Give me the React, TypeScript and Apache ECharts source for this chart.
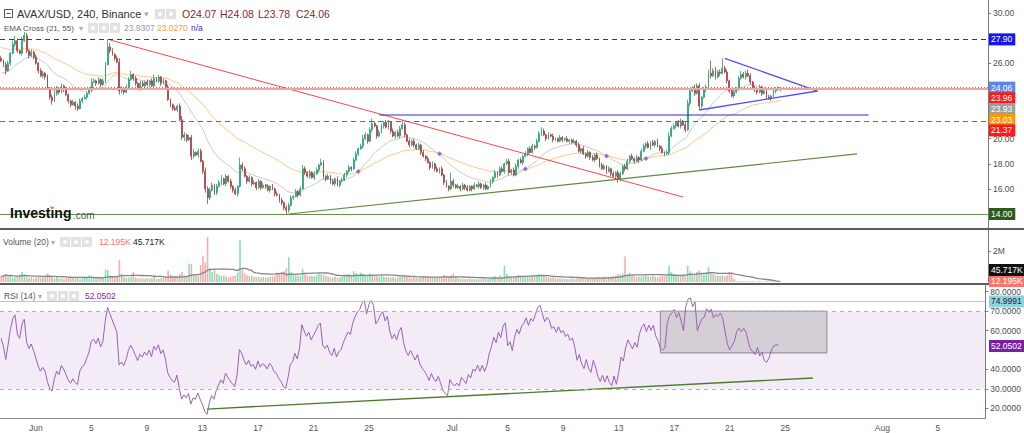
import React, { useEffect, useRef } from 'react';
import * as echarts from 'echarts';

const FONT = 'Liberation Sans';
const START_UTC = Date.UTC(2022, 4, 29, 12);
const BAR_HOURS = 4;
const SLOT_COUNT = 426;
const MONTHS = ['Jan', 'Feb', 'Mar', 'Apr', 'May', 'Jun', 'Jul', 'Aug', 'Sep', 'Oct', 'Nov', 'Dec'];
const LABEL_DAYS = [1, 5, 9, 13, 17, 21, 25];

const FIRST_OPEN = 26.4;
const closes = [
  26.2, 25.9, 25.4, 26.0, 26.8, 27.5, 27.8, 27.0, 26.8, 27.8,
  28.2, 27.0, 26.6, 26.9, 26.5, 26.0, 25.4, 25.0, 25.2, 24.9,
  24.0, 23.3, 23.0, 23.6, 24.0, 23.7, 24.2, 23.9, 23.5, 23.0,
  22.7, 22.9, 22.6, 22.4, 23.0, 23.2, 23.3, 23.6, 23.9, 24.5,
  24.6, 24.4, 24.7, 24.3, 24.6, 25.9, 27.3, 27.0, 26.7, 26.4,
  26.1, 23.8, 24.0, 23.7, 24.1, 24.7, 25.1, 24.8, 24.4, 24.0,
  24.4, 24.2, 24.5, 24.3, 24.6, 24.2, 24.8, 24.6, 24.9, 24.4,
  24.6, 24.1, 23.1, 22.7, 22.4, 22.3, 22.6, 21.5, 20.1, 20.3,
  19.9, 20.1, 18.6, 18.9, 18.7, 19.0, 18.2, 17.4, 16.0, 15.3,
  15.9, 16.3, 15.7, 16.2, 16.5, 16.8, 16.4, 17.0, 16.6, 16.2,
  15.9, 15.6, 16.2, 17.9, 17.6, 17.0, 16.6, 16.9, 16.4, 16.5,
  16.1, 16.6, 16.1, 16.3, 16.2, 15.9, 16.2, 16.0, 15.6, 15.5,
  15.1, 14.9, 14.5, 14.3, 14.7, 15.3, 15.4, 15.8, 15.5, 16.0,
  17.6, 17.3, 17.0, 17.3, 16.9, 17.2, 17.5, 17.9, 18.1, 17.0,
  16.8, 17.0, 16.6, 16.4, 16.8, 16.3, 16.6, 16.7, 17.1, 17.4,
  17.7, 17.6, 18.3, 18.8, 19.2, 19.4, 20.0, 20.3, 19.8, 20.7,
  21.2, 21.0, 20.2, 20.5, 21.0, 21.3, 20.9, 21.3, 20.6, 20.2,
  20.5, 20.2, 20.8, 21.1, 20.3, 19.8, 19.5, 19.8, 19.5, 19.2,
  19.5, 18.9, 18.6, 18.4, 18.1, 17.7, 18.0, 17.6, 17.4, 17.6,
  17.1, 16.5, 16.2, 16.0, 16.6, 16.3, 16.1, 16.2, 16.0, 16.3,
  16.1, 15.9, 16.2, 16.0, 16.3, 16.2, 16.4, 16.1, 16.3, 16.0,
  16.2, 16.6, 16.9, 17.3, 17.1, 17.6, 17.4, 18.0, 18.2, 17.3,
  17.5, 17.1, 17.8, 18.3, 18.1, 18.6, 18.8, 19.2, 18.9, 19.4,
  19.3, 19.8, 20.4, 20.6, 20.3, 20.0, 20.3, 20.2, 19.9, 20.0,
  19.8, 20.1, 19.9, 20.0, 19.8, 19.9, 19.7, 19.8, 19.5, 19.0,
  19.2, 18.8, 18.6, 18.9, 18.5, 18.3, 18.7, 18.4, 17.9, 17.6,
  17.8, 17.4, 17.6, 17.2, 17.0, 17.3, 16.8, 17.2, 17.8, 17.6,
  18.2, 18.6, 18.4, 18.2, 18.5, 18.3, 19.0, 19.4, 19.6, 19.3,
  19.7, 19.5, 19.8, 19.4, 19.2, 18.9, 18.8, 18.9, 20.2, 20.8,
  21.0, 21.3, 21.0, 21.4, 21.1, 20.7, 22.8, 23.8, 24.0, 23.6,
  24.2, 22.6, 23.3, 23.9, 24.1, 25.2, 25.0, 25.4, 24.9, 25.3,
  25.2, 25.6, 25.3, 24.6, 23.8, 23.4, 23.7, 24.0, 24.8, 25.1,
  24.9, 25.2, 25.0, 24.5, 24.0, 23.9, 23.7, 24.1, 23.6, 23.8,
  23.3, 23.2, 23.4, 23.8, 24.0, 24.07, 24.06,
];
// upper / lower wick lengths, in tenths of a dollar
const upWick = [
  2, 1, 2, 2, 1, 3, 4, 2, 1, 3, 3, 2, 1, 2, 1, 2, 1, 2, 2, 1,
  2, 1, 2, 3, 2, 1, 2, 1, 2, 1, 1, 2, 1, 2, 2, 1, 2, 1, 2, 3,
  2, 1, 2, 1, 2, 2, 6, 3, 2, 1, 2, 3, 2, 1, 2, 2, 3, 1, 2, 1,
  2, 2, 1, 2, 1, 2, 3, 1, 2, 1, 2, 1, 2, 1, 1, 2, 1, 2, 3, 2,
  1, 2, 2, 3, 1, 2, 2, 1, 3, 2, 2, 2, 1, 2, 2, 3, 1, 2, 1, 2,
  1, 2, 1, 6, 2, 2, 1, 2, 1, 2, 1, 2, 1, 2, 1, 2, 1, 2, 1, 2,
  1, 2, 1, 2, 2, 2, 1, 2, 1, 2, 3, 2, 1, 2, 1, 2, 2, 1, 3, 2,
  1, 2, 1, 2, 1, 2, 1, 2, 2, 1, 2, 1, 2, 2, 1, 2, 3, 2, 1, 2,
  4, 2, 1, 2, 2, 1, 2, 2, 1, 2, 1, 2, 2, 4, 2, 1, 2, 1, 2, 1,
  2, 1, 2, 1, 2, 1, 2, 1, 2, 1, 2, 1, 2, 1, 7, 2, 1, 2, 1, 2,
  1, 2, 1, 1, 2, 1, 2, 1, 1, 2, 1, 2, 1, 2, 1, 2, 2, 1, 2, 2,
  1, 2, 2, 1, 2, 1, 2, 1, 2, 2, 1, 2, 2, 3, 2, 1, 2, 1, 2, 1,
  1, 2, 1, 1, 2, 1, 1, 2, 1, 2, 1, 2, 1, 2, 1, 2, 1, 2, 1, 2,
  2, 1, 2, 1, 2, 1, 2, 2, 1, 2, 2, 1, 2, 1, 2, 1, 2, 2, 1, 2,
  1, 2, 1, 2, 1, 2, 1, 2, 3, 2, 2, 1, 2, 2, 1, 2, 3, 2, 2, 3,
  2, 2, 1, 2, 2, 3, 10, 2, 3, 2, 2, 8, 2, 2, 1, 2, 2, 1, 2, 3,
  2, 2, 3, 2, 1, 2, 1, 2, 1, 2, 1, 2, 1, 2, 1, 1, 0,
];
const downWick = [
  1, 2, 3, 1, 2, 1, 2, 2, 1, 2, 1, 2, 2, 1, 2, 1, 2, 1, 2, 2,
  1, 2, 3, 1, 2, 2, 1, 2, 1, 2, 2, 1, 3, 2, 1, 2, 1, 2, 1, 2,
  1, 2, 1, 2, 1, 2, 1, 2, 1, 2, 1, 3, 2, 2, 1, 2, 1, 2, 2, 1,
  2, 1, 2, 1, 2, 1, 2, 1, 2, 2, 1, 2, 1, 2, 2, 1, 2, 1, 2, 3,
  2, 1, 3, 2, 1, 2, 1, 2, 3, 5, 2, 1, 2, 2, 1, 2, 1, 2, 1, 2,
  2, 1, 2, 1, 2, 1, 2, 1, 2, 1, 2, 1, 2, 1, 2, 1, 2, 1, 2, 1,
  2, 2, 2, 4, 2, 1, 2, 1, 2, 1, 1, 2, 1, 2, 1, 2, 1, 2, 1, 2,
  2, 1, 2, 1, 2, 1, 2, 1, 1, 2, 1, 2, 1, 1, 2, 1, 2, 1, 2, 1,
  2, 1, 2, 1, 1, 2, 1, 2, 2, 1, 2, 1, 2, 1, 2, 1, 2, 1, 2, 1,
  1, 2, 1, 2, 1, 2, 1, 2, 1, 2, 1, 2, 1, 2, 1, 2, 1, 1, 2, 1,
  2, 1, 1, 2, 1, 1, 2, 1, 2, 1, 1, 1, 2, 1, 2, 1, 1, 2, 1, 2,
  2, 1, 1, 2, 1, 2, 1, 2, 1, 1, 2, 1, 1, 2, 1, 2, 1, 1, 2, 1,
  1, 1, 2, 1, 1, 2, 1, 1, 2, 1, 2, 1, 2, 1, 2, 1, 2, 1, 2, 1,
  1, 2, 1, 2, 1, 3, 3, 2, 1, 2, 1, 2, 1, 2, 1, 2, 1, 1, 2, 1,
  2, 1, 2, 1, 2, 1, 2, 1, 2, 1, 1, 2, 1, 2, 1, 2, 1, 2, 1, 2,
  1, 3, 2, 1, 2, 1, 2, 1, 2, 1, 2, 1, 1, 2, 2, 1, 2, 1, 2, 1,
  1, 2, 1, 2, 1, 2, 2, 1, 2, 1, 2, 1, 2, 1, 2, 2, 3,
];
// volume per 4h candle, thousands
const volumesK = [
  380, 420, 520, 350, 460, 300, 280, 360, 420, 650,
  480, 350, 260, 300, 220, 280, 320, 260, 300, 340,
  550, 420, 380, 260, 300, 220, 240, 200, 260, 300,
  340, 260, 220, 280, 200, 240, 260, 300, 450, 380,
  300, 260, 220, 240, 260, 800, 780, 420, 300, 260,
  340, 1400, 520, 300, 260, 280, 320, 650, 300, 240,
  220, 260, 200, 240, 220, 260, 450, 220, 200, 240,
  260, 300, 750, 480, 360, 300, 340, 520, 650, 420,
  380, 1200, 1150, 520, 440, 380, 1100, 1700, 1250, 2900,
  900, 650, 850, 520, 440, 380, 420, 360, 300, 340,
  380, 420, 600, 2700, 900, 560, 440, 380, 420, 340,
  300, 340, 280, 320, 260, 300, 340, 360, 420, 600,
  520, 640, 700, 880, 1600, 640, 520, 440, 420, 380,
  850, 560, 440, 380, 420, 360, 440, 560, 520, 480,
  400, 340, 300, 280, 320, 260, 300, 340, 450, 400,
  520, 480, 700, 560, 440, 600, 520, 440, 380, 560,
  480, 420, 380, 340, 400, 360, 300, 340, 280, 320,
  260, 300, 340, 450, 420, 360, 300, 280, 320, 260,
  240, 300, 400, 340, 300, 280, 320, 260, 300, 280,
  340, 450, 380, 300, 420, 550, 360, 240, 220, 200,
  180, 200, 220, 180, 200, 160, 180, 200, 220, 180,
  200, 300, 340, 380, 320, 420, 360, 1050, 520, 400,
  360, 320, 380, 450, 340, 300, 320, 360, 300, 340,
  360, 420, 520, 480, 400, 340, 300, 280, 300, 260,
  240, 220, 200, 220, 180, 200, 220, 200, 220, 260,
  280, 300, 260, 240, 280, 260, 300, 320, 340, 300,
  340, 300, 320, 360, 380, 420, 520, 480, 560, 1650,
  520, 600, 450, 380, 320, 360, 340, 380, 420, 360,
  340, 380, 320, 300, 360, 420, 380, 420, 1050, 640,
  520, 480, 440, 420, 400, 380, 1050, 700, 560, 480,
  650, 750, 560, 480, 520, 950, 620, 520, 440, 400,
  380, 420, 360, 440, 650, 480, 200, 60, 50, 45,
  40, 55, 45, 60, 50, 40, 35, 50, 45, 40,
  100, 35, 45, 30, 40, 35, 12,
];

const EMA_FAST_START = 25.1;
const EMA_SLOW_START = 27.3;
const RSI_START_GAIN = 0.16;
const RSI_START_LOSS = 0.11;

// drawn lines: [candle index, value]
const downTrend = [[47, 27.85], [294, 15.35]];
const upTrend = [[124, 14.0], [369, 18.78]];
const blueLevel = [[163, 21.88], [374, 21.88]];
const triangleTop = [[312, 26.39], [352, 23.79]];
const triangleBottom = [[301, 22.28], [352, 23.79]];
const rsiTrend = [[89, 19.6], [351, 35.6]];
const rsiBox = [[285, 70], [357, 48.5]];

const priceLevels = { blueDash: 27.9, pink: 23.96, last: 24.06, redDash: 21.37, green: 14.0 };
const PRICE_TICKS = [16, 18, 20, 26, 30];
const RSI_TICKS = [20, 30, 40, 60, 70, 80];
const VOL_TICKS = [2000];

const TITLE = 'AVAX/USD, 240, Binance';
const OHLC_TEXT = ['O24.07', 'H24.08', 'L23.78', 'C24.06'];
const EMA_TEXT = ['23.9307', '23.0270', 'n/a'];
const VOL_TEXT = ['12.195K', '45.717K'];
const RSI_TEXT = '52.0502';

const priceTags = [
  { v: 27.9, t: '27.90', bg: '#1515f0', fg: '#fff' },
  { v: 24.06, t: '24.06', bg: '#5b86e6', fg: '#fff' },
  { v: 23.96, t: '23.96', bg: '#ff1a1a', fg: '#fff' },
  { v: 23.93, t: '23.93', bg: '#9e9e9e', fg: '#fff' },
  { v: 23.03, t: '23.03', bg: '#ff9800', fg: '#fff' },
  { v: 21.37, t: '21.37', bg: '#ff1a1a', fg: '#fff' },
  { v: 14.0, t: '14.00', bg: '#2e5a1c', fg: '#fff' },
];
const volTags = [
  { v: 12.195, t: '12.195K', bg: '#f7756f', fg: '#fff' },
  { v: 45.717, t: '45.717K', bg: '#111111', fg: '#fff' },
];
const rsiTags = [
  { v: 74.9991, t: '74.9991', bg: '#8fd3e3', fg: '#222' },
  { v: 52.0502, t: '52.0502', bg: '#7b1fa2', fg: '#fff' },
];

const UP = '#26a17a';
const DOWN = '#a93f3f';

function pad(n: number) { return n < 10 ? '0' + n : '' + n; }

export default function App() {
  const ref = useRef<HTMLDivElement>(null);
  useEffect(() => {
    if (!ref.current) return;
    const chart = echarts.init(ref.current, null, { renderer: 'svg' });

    const cats: string[] = [];
    for (let k = 0; k < SLOT_COUNT; k++) {
      const d = new Date(START_UTC + k * BAR_HOURS * 3600e3);
      cats.push(`${d.getUTCFullYear()}-${pad(d.getUTCMonth() + 1)}-${pad(d.getUTCDate())} ${pad(d.getUTCHours())}`);
    }
    const showLabel = (_i: number, v: string) => {
      const day = +v.slice(8, 10);
      return v.slice(11, 13) === '00' && LABEL_DAYS.includes(day);
    };
    const fmtLabel = (v: string) => {
      const day = +v.slice(8, 10);
      return day === 1 ? MONTHS[+v.slice(5, 7) - 1] : String(day);
    };

    const candles = closes.map((c, i) => {
      const o = i === 0 ? FIRST_OPEN : closes[i - 1];
      const h = Math.max(o, c) + upWick[i] / 10;
      const l = Math.min(o, c) - downWick[i] / 10;
      return [o, c, +l.toFixed(2), +h.toFixed(2)];
    });

    // indicators
    const emaF: number[] = [];
    const emaS: number[] = [];
    let ef = EMA_FAST_START, es = EMA_SLOW_START;
    const af = 2 / 22, as = 2 / 56;
    closes.forEach((c) => {
      ef = ef + af * (c - ef);
      es = es + as * (c - es);
      emaF.push(+ef.toFixed(3));
      emaS.push(+es.toFixed(3));
    });
    const crosses: number[][] = [];
    for (let i = 1; i < closes.length; i++) {
      const a = emaF[i - 1] - emaS[i - 1];
      const b = emaF[i] - emaS[i];
      if (a * b < 0) crosses.push([i, (emaF[i] + emaS[i]) / 2]);
    }
    const rsi: number[] = [];
    let g = RSI_START_GAIN, lo = RSI_START_LOSS;
    closes.forEach((c, i) => {
      const prev = i === 0 ? FIRST_OPEN : closes[i - 1];
      const ch = c - prev;
      g = (g * 13 + Math.max(ch, 0)) / 14;
      lo = (lo * 13 + Math.max(-ch, 0)) / 14;
      rsi.push(+(100 - 100 / (1 + g / lo)).toFixed(2));
    });
    const volMA = volumesK.map((_, i) => {
      const s = Math.max(0, i - 19);
      const arr = volumesK.slice(s, i + 1);
      return +(arr.reduce((p, q) => p + q, 0) / arr.length).toFixed(1);
    });
    const volBars = volumesK.map((v, i) => ({
      value: v,
      itemStyle: { color: candles[i][1] >= candles[i][0] ? '#86dfb8' : '#f9acab' },
    }));

    const segment = (data: number[][], color: string, width: number, xi = 0) => ({
      type: 'line', xAxisIndex: xi, yAxisIndex: xi, data, symbol: 'none', silent: true,
      lineStyle: { color, width }, z: 4,
    });

    const xAxis = [0, 1, 2].map((gi) => ({
      type: 'category', gridIndex: gi, data: cats, boundaryGap: true, show: gi === 2,
      axisLine: { lineStyle: { color: '#8a8a8a' } },
      axisTick: { interval: showLabel, length: 4, lineStyle: { color: '#8a8a8a' } },
      axisLabel: { interval: showLabel, formatter: fmtLabel, color: '#555', fontSize: 8.5, fontFamily: FONT, margin: 5 },
      splitLine: { show: false },
    }));
    const yCommon = {
      position: 'right', splitLine: { show: false },
      axisLine: { show: true, lineStyle: { color: '#7a7a7a' } },
    };
    const yAxis = [
      {
        ...yCommon, type: 'value', gridIndex: 0, min: 12.886, max: 31.035,
        axisTick: { show: true, length: 3, customValues: PRICE_TICKS, lineStyle: { color: '#7a7a7a' } },
        axisLabel: { customValues: PRICE_TICKS, formatter: (v: number) => v.toFixed(2), color: '#4d4d4d', fontSize: 8.5, fontFamily: FONT, margin: 5 },
      },
      {
        ...yCommon, type: 'value', gridIndex: 1, min: 0, max: 3355,
        axisTick: { show: true, length: 3, customValues: VOL_TICKS, lineStyle: { color: '#7a7a7a' } },
        axisLabel: { customValues: VOL_TICKS, formatter: (v: number) => v / 1000 + 'M', color: '#4d4d4d', fontSize: 8.5, fontFamily: FONT, margin: 5 },
      },
      {
        ...yCommon, type: 'value', gridIndex: 2, min: 15.01, max: 83.45,
        axisTick: { show: true, length: 3, customValues: RSI_TICKS, lineStyle: { color: '#7a7a7a' } },
        axisLabel: { customValues: RSI_TICKS, formatter: (v: number) => v.toFixed(4), color: '#4d4d4d', fontSize: 8.5, fontFamily: FONT, margin: 5 },
      },
    ];

    const option: any = {
      animation: false,
      backgroundColor: '#ffffff',
      grid: [
        { left: 0, right: 36, top: 0, height: 228 },
        { left: 0, right: 36, top: 230, height: 52 },
        { left: 0, right: 36, top: 285, height: 133 },
      ],
      xAxis, yAxis,
      series: [
        {
          type: 'candlestick', xAxisIndex: 0, yAxisIndex: 0, data: candles, barWidth: 1.4, z: 3,
          itemStyle: { color: UP, color0: DOWN, borderColor: UP, borderColor0: DOWN, borderWidth: 0.8 },
          markLine: {
            silent: true, symbol: ['none', 'none'], label: { show: false },
            data: [
              { yAxis: priceLevels.blueDash, lineStyle: { color: '#2a2ae0', width: 1, type: [5, 4] } },
              { yAxis: priceLevels.pink, lineStyle: { color: '#f3a2a2', width: 2, type: 'solid' } },
              { yAxis: priceLevels.last, lineStyle: { color: '#6283e6', width: 1, type: [1, 2] } },
              { yAxis: priceLevels.redDash, lineStyle: { color: '#ee3333', width: 1, type: [5, 4] } },
              { yAxis: priceLevels.green, lineStyle: { color: '#6b8f4a', width: 1, type: 'solid' } },
            ],
          },
        },
        { type: 'line', xAxisIndex: 0, yAxisIndex: 0, data: emaF, symbol: 'none', silent: true, lineStyle: { color: '#c9c9c9', width: 1 }, z: 2 },
        { type: 'line', xAxisIndex: 0, yAxisIndex: 0, data: emaS, symbol: 'none', silent: true, lineStyle: { color: '#fcc68a', width: 1 }, z: 2 },
        { type: 'scatter', xAxisIndex: 0, yAxisIndex: 0, data: crosses, symbol: 'diamond', symbolSize: 5, itemStyle: { color: '#6a5acd' }, z: 5, silent: true },
        segment(downTrend, '#f24a4a', 1),
        segment(upTrend, '#5f8a45', 1.2),
        segment(blueLevel, '#3030c4', 1.1),
        segment(triangleTop, '#5252f0', 1.3),
        segment(triangleBottom, '#5252f0', 1.3),
        { type: 'bar', xAxisIndex: 1, yAxisIndex: 1, data: volBars, barWidth: 1.6, silent: true },
        { type: 'line', xAxisIndex: 1, yAxisIndex: 1, data: volMA, symbol: 'none', silent: true, lineStyle: { color: '#858585', width: 1.3 } },
        {
          type: 'line', xAxisIndex: 2, yAxisIndex: 2, data: rsi, symbol: 'none', silent: true, z: 3,
          lineStyle: { color: '#9b62b4', width: 1 },
          markArea: {
            silent: true,
            data: [
              [{ yAxis: 70, itemStyle: { color: 'rgba(155,89,182,0.12)' } }, { yAxis: 30 }],
              [{ coord: rsiBox[0], itemStyle: { color: 'rgba(105,105,105,0.22)', borderColor: '#8a8a8a', borderWidth: 1 } }, { coord: rsiBox[1] }],
            ],
          },
          markLine: {
            silent: true, symbol: ['none', 'none'], label: { show: false },
            data: [
              { yAxis: 70, lineStyle: { color: '#b0b0b0', width: 1, type: [4, 4] } },
              { yAxis: 30, lineStyle: { color: '#b0b0b0', width: 1, type: [4, 4] } },
              { yAxis: 74.9991, lineStyle: { color: '#8fd6e6', width: 1, type: 'solid' } },
            ],
          },
        },
        segment(rsiTrend, '#4f7a2e', 1.4, 2),
      ],
    };
    chart.setOption(option);

    const txt = (x: number, y: number, text: string, fill: string, size = 9, extra: any = {}) => ({
      type: 'text', x, y, silent: true, z: 20,
      style: { text, fill, fontSize: size, fontFamily: FONT, verticalAlign: 'middle', textVerticalAlign: 'middle', ...extra },
    });
    const icons = (x0: number, yc: number, n: number) => {
      const out: any[] = [];
      for (let k = 0; k < n; k++) {
        out.push({ type: 'rect', silent: true, z: 20, shape: { x: x0 + k * 11, y: yc - 5, width: 10, height: 10, r: 1 }, style: { fill: '#e2e2e2' } });
        out.push({ type: 'circle', silent: true, z: 21, shape: { cx: x0 + k * 11 + 5, cy: yc, r: 2 }, style: { fill: '#fff' } });
      }
      return out;
    };
    const tagEl = (y: number, tg: any) => txt(989, y, tg.t, tg.fg, 8.5, { backgroundColor: tg.bg, padding: [2, 3, 1, 2] });

    const els: any[] = [];
    // separators
    els.push({ type: 'rect', silent: true, z: 15, shape: { x: 0, y: 228, width: 1024, height: 2 }, style: { fill: '#5c5c5c' } });
    els.push({ type: 'rect', silent: true, z: 15, shape: { x: 0, y: 283, width: 1024, height: 2 }, style: { fill: '#5c5c5c' } });
    // title row
    els.push({ type: 'rect', silent: true, z: 20, shape: { x: 4.5, y: 9.5, width: 8, height: 8 }, style: { fill: '#fff', stroke: '#555', lineWidth: 1 } });
    els.push({ type: 'line', silent: true, z: 21, shape: { x1: 6.5, y1: 13.5, x2: 10.5, y2: 13.5 }, style: { stroke: '#555', lineWidth: 1 } });
    els.push(txt(17, 14, TITLE, '#333', 11));
    els.push(txt(144, 14, '▾', '#aaa', 9, { fontFamily: 'DejaVu Sans' }));
    els.push(...icons(155, 14, 2));
    let ox = 182;
    OHLC_TEXT.forEach((t) => { els.push(txt(ox, 14, t, '#8b2a2a', 10.5)); ox += 38; });
    // EMA row
    els.push(txt(4, 28, 'EMA Cross (21, 55)', '#555', 8));
    els.push(txt(79, 28, '▾', '#aaa', 8, { fontFamily: 'DejaVu Sans' }));
    els.push(...icons(88, 28, 3));
    els.push(txt(124, 28, EMA_TEXT[0], '#999', 8.5));
    els.push(txt(157, 28, EMA_TEXT[1], '#f5a04a', 8.5));
    els.push(txt(191, 28, EMA_TEXT[2], '#3535b8', 8.5));
    // volume row
    els.push(txt(3, 242, 'Volume (20)', '#555', 8.5));
    els.push(txt(51, 242, '▾', '#aaa', 8, { fontFamily: 'DejaVu Sans' }));
    els.push(...icons(60, 242, 3));
    els.push(txt(99, 242, VOL_TEXT[0], '#f7756f', 8.5));
    els.push(txt(133, 242, VOL_TEXT[1], '#222', 8.5));
    // RSI row
    els.push(txt(4, 296, 'RSI (14)', '#555', 8.5));
    els.push(txt(38, 296, '▾', '#aaa', 8, { fontFamily: 'DejaVu Sans' }));
    els.push(...icons(47, 296, 3));
    els.push(txt(85, 296, RSI_TEXT, '#7b1fa2', 8.5));
    // watermark
    els.push(txt(10, 213, 'Investing', '#111', 14, { fontWeight: 'bold' }));
    els.push(txt(73, 215, '.com', '#555', 10));
    els.push({ type: 'circle', silent: true, z: 22, shape: { cx: 51.5, cy: 207.5, r: 1.4 }, style: { fill: '#f5a623' } });

    // price tags stacked downward
    let prev = -1e9;
    priceTags.slice().sort((a, b) => b.v - a.v).forEach((tg) => {
      const yy = Math.max(chart.convertToPixel({ yAxisIndex: 0 }, tg.v) as number, prev + 10.7);
      prev = yy;
      els.push(tagEl(yy, tg));
    });
    // volume tags stacked upward from the pane bottom
    let vprev = 281;
    volTags.slice().sort((a, b) => a.v - b.v).forEach((tg, k) => {
      const trueY = chart.convertToPixel({ yAxisIndex: 1 }, tg.v) as number;
      const yy = k === 0 ? Math.min(trueY, vprev) : Math.min(trueY, vprev - 11);
      vprev = yy;
      els.push(tagEl(yy, tg));
    });
    rsiTags.forEach((tg) => {
      els.push(tagEl(chart.convertToPixel({ yAxisIndex: 2 }, tg.v) as number, tg));
    });

    chart.setOption({ graphic: { elements: els } });
    return () => chart.dispose();
  }, []);
  return <div ref={ref} style={{ position: 'fixed', left: 0, top: 0, width: 1024, height: 433, background: '#fff' }} />;
}
